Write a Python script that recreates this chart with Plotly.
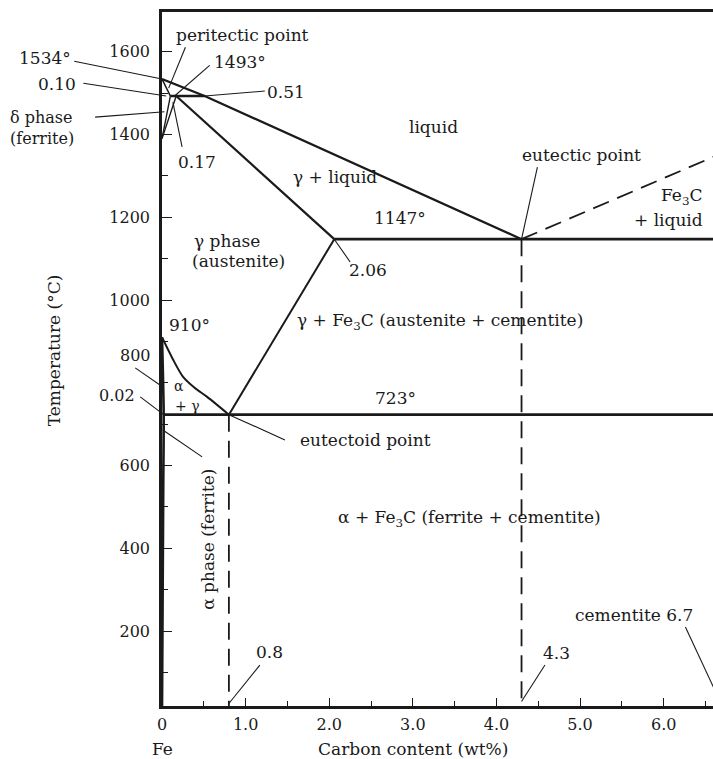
import plotly.graph_objects as go

# ---------------- data: Fe–Fe3C phase boundaries (carbon wt%, temperature °C)
liquidus_c = [0.0, 0.51, 4.3]
liquidus_t = [1534, 1493, 1147]
delta_solidus_c = [0.0, 0.10]
delta_solidus_t = [1534, 1493]
peritectic_c = [0.10, 0.51]
peritectic_t = [1493, 1493]
delta_solvus_c = [0.10, 0.0]
delta_solvus_t = [1493, 1390]
gamma_delta_c = [0.17, 0.0]
gamma_delta_t = [1493, 1390]
gamma_solidus_c = [0.17, 2.06]
gamma_solidus_t = [1493, 1147]
eutectic_c = [2.06, 6.7]
eutectic_t = [1147, 1147]
acm_c = [2.06, 0.8]
acm_t = [1147, 723]
a3_c = [0.0, 0.13, 0.25, 0.39, 0.54, 0.8]
a3_t = [910, 857, 815, 788, 766, 723]
eutectoid_c = [0.02, 6.7]
eutectoid_t = [723, 723]
alpha_solvus_c = [0.0, 0.02, 0.015, 0.008, 0.0]
alpha_solvus_t = [910, 723, 550, 300, 0]
fe3c_liquidus_c = [4.3, 6.7]
fe3c_liquidus_t = [1147, 1355]
eutectoid_comp_c = [0.8, 0.8]
eutectoid_comp_t = [723, 0]
eutectic_comp_c = [4.3, 4.3]
eutectic_comp_t = [1147, 0]

x_tickvals = [0, 1, 2, 3, 4, 5, 6]
x_ticktext = ["0", "1.0", "2.0", "3.0", "4.0", "5.0", "6.0"]
y_tickvals = [200, 400, 600, 1000, 1200, 1400, 1600]
y_ticktext = ["200", "400", "600", "1000", "1200", "1400", "1600"]

# labels: (text, carbon, temperature, xanchor, angle, size)
labels = [
    ("peritectic point", 0.96, 1640, "center", 0, 17),
    ("1493°", 0.93, 1575, "center", 0, 17),
    ("1534°", -1.40, 1585, "center", 0, 17),
    ("0.10", -1.26, 1522, "center", 0, 17),
    ("0.51", 1.48, 1502, "center", 0, 17),
    ("δ phase", -1.84, 1442, "left", 0, 16),
    ("(ferrite)", -1.84, 1391, "left", 0, 16),
    ("0.17", 0.42, 1333, "center", 0, 17),
    ("liquid", 3.25, 1418, "center", 0, 17),
    ("eutectic point", 5.02, 1350, "center", 0, 17),
    ("γ + liquid", 2.07, 1297, "center", 0, 17),
    ("Fe<sub>3</sub>C", 6.50, 1249, "right", 0, 17),
    ("+ liquid", 6.50, 1193, "right", 0, 17),
    ("1147°", 2.85, 1198, "center", 0, 17),
    ("γ phase", 0.36, 1143, "left", 0, 17),
    ("(austenite)", 0.33, 1094, "left", 0, 17),
    ("2.06", 2.46, 1072, "center", 0, 17),
    ("910°", 0.33, 940, "center", 0, 17),
    ("γ + Fe<sub>3</sub>C (austenite + cementite)", 3.33, 947, "center", 0, 17),
    ("α", 0.20, 792, "center", 0, 14),
    ("+ γ", 0.31, 745, "center", 0, 14),
    ("800", -0.32, 867, "center", 0, 16),
    ("0.02", -0.54, 770, "center", 0, 16),
    ("723°", 2.79, 763, "center", 0, 17),
    ("eutectoid point", 2.43, 662, "center", 0, 17),
    ("α phase (ferrite)", 0.55, 423, "center", -90, 17),
    ("α + Fe<sub>3</sub>C (ferrite + cementite)", 3.68, 473, "center", 0, 17),
    ("0.8", 1.28, 150, "center", 0, 17),
    ("4.3", 4.72, 147, "center", 0, 17),
    ("cementite 6.7", 5.65, 239, "center", 0, 17),
    ("Temperature (°C)", -1.29, 879, "center", -90, 17),
    ("Fe", 0.0, -84, "center", 0, 17),
    ("Carbon content (wt%)", 3.0, -84, "center", 0, 17),
]

# leader lines: ((c0, t0), (c1, t1))
leaders = [
    ((-1.05, 1577), (0.0, 1534)),
    ((-0.94, 1524), (0.05, 1493)),
    ((-0.80, 1442), (0.03, 1455)),
    ((0.28, 1611), (0.08, 1512)),
    ((0.57, 1567), (0.15, 1493)),
    ((1.23, 1505), (0.51, 1493)),
    ((0.24, 1370), (0.13, 1478)),
    ((4.49, 1321), (4.3, 1147)),
    ((2.25, 1092), (2.06, 1147)),
    ((1.47, 662), (0.8, 723)),
    ((-0.26, 766), (0.02, 723)),
    ((-0.32, 836), (0.01, 790)),
    ((0.48, 621), (0.01, 686)),
    ((1.17, 118), (0.8, 25)),
    ((4.58, 118), (4.3, 30)),
    ((6.26, 210), (6.7, 19)),
]

X_MIN, X_MAX = 0.0, 6.59
Y_MIN, Y_MAX = 19.0, 1696.0
INK = "#1a1a1a"
FONT = "DejaVu Serif"


def px(c):
    return (c - X_MIN) / (X_MAX - X_MIN)


def py(t):
    return (t - Y_MIN) / (Y_MAX - Y_MIN)


fig = go.Figure()

solid = [
    (liquidus_c, liquidus_t, 2.2, "linear"),
    (delta_solidus_c, delta_solidus_t, 1.6, "linear"),
    (peritectic_c, peritectic_t, 2.6, "linear"),
    (delta_solvus_c, delta_solvus_t, 1.4, "linear"),
    (gamma_delta_c, gamma_delta_t, 1.4, "linear"),
    (gamma_solidus_c, gamma_solidus_t, 2.2, "linear"),
    (eutectic_c, eutectic_t, 2.8, "linear"),
    (acm_c, acm_t, 2.0, "linear"),
    (a3_c, a3_t, 2.0, "spline"),
    (eutectoid_c, eutectoid_t, 2.8, "linear"),
    (alpha_solvus_c, alpha_solvus_t, 2.6, "spline"),
]
for cs, ts, w, shp in solid:
    fig.add_trace(go.Scatter(x=cs, y=ts, mode="lines", showlegend=False,
                             hoverinfo="skip",
                             line=dict(color=INK, width=w, shape=shp, smoothing=0.8)))

dashed = [
    (fe3c_liquidus_c, fe3c_liquidus_t),
    (eutectoid_comp_c, eutectoid_comp_t),
    (eutectic_comp_c, eutectic_comp_t),
]
for cs, ts in dashed:
    fig.add_trace(go.Scatter(x=cs, y=ts, mode="lines", showlegend=False,
                             hoverinfo="skip",
                             line=dict(color=INK, width=1.8, dash="17px,9px")))

shapes = []
for (c0, t0), (c1, t1) in leaders:
    shapes.append(dict(type="line", xref="paper", yref="paper",
                       x0=px(c0), y0=py(t0), x1=px(c1), y1=py(t1),
                       line=dict(color=INK, width=1.1), layer="above"))

annotations = []
for text, c, t, xa, ang, size in labels:
    annotations.append(dict(text=text, x=px(c), y=py(t), xref="paper", yref="paper",
                            xanchor=xa, yanchor="middle", showarrow=False,
                            textangle=ang,
                            font=dict(family=FONT, size=size, color=INK)))

fig.update_layout(
    width=713, height=759,
    margin=dict(l=162, r=0, t=12, b=53),
    paper_bgcolor="white", plot_bgcolor="white",
    showlegend=False,
    shapes=shapes,
    annotations=annotations,
    xaxis=dict(range=[X_MIN, X_MAX], showgrid=False, zeroline=False,
               showline=True, linewidth=2.5, linecolor=INK, mirror=True,
               ticks="inside", ticklen=8, tickwidth=1.4, tickcolor=INK,
               tickvals=x_tickvals, ticktext=x_ticktext,
               minor=dict(ticks="inside", ticklen=5, tickwidth=1.2, tickcolor=INK,
                          dtick=0.5, tick0=0),
               tickfont=dict(family=FONT, size=16, color=INK),
               ticklabelstandoff=2),
    yaxis=dict(range=[Y_MIN, Y_MAX], showgrid=False, zeroline=False,
               showline=True, linewidth=2.5, linecolor=INK,
               ticks="inside", ticklen=10, tickwidth=1.4, tickcolor=INK,
               tickvals=y_tickvals, ticktext=y_ticktext,
               minor=dict(ticks="inside", ticklen=6, tickwidth=1.2, tickcolor=INK,
                          dtick=100, tick0=0),
               tickfont=dict(family=FONT, size=16, color=INK),
               ticklabelstandoff=6),
)

fig.write_html("out.html")
